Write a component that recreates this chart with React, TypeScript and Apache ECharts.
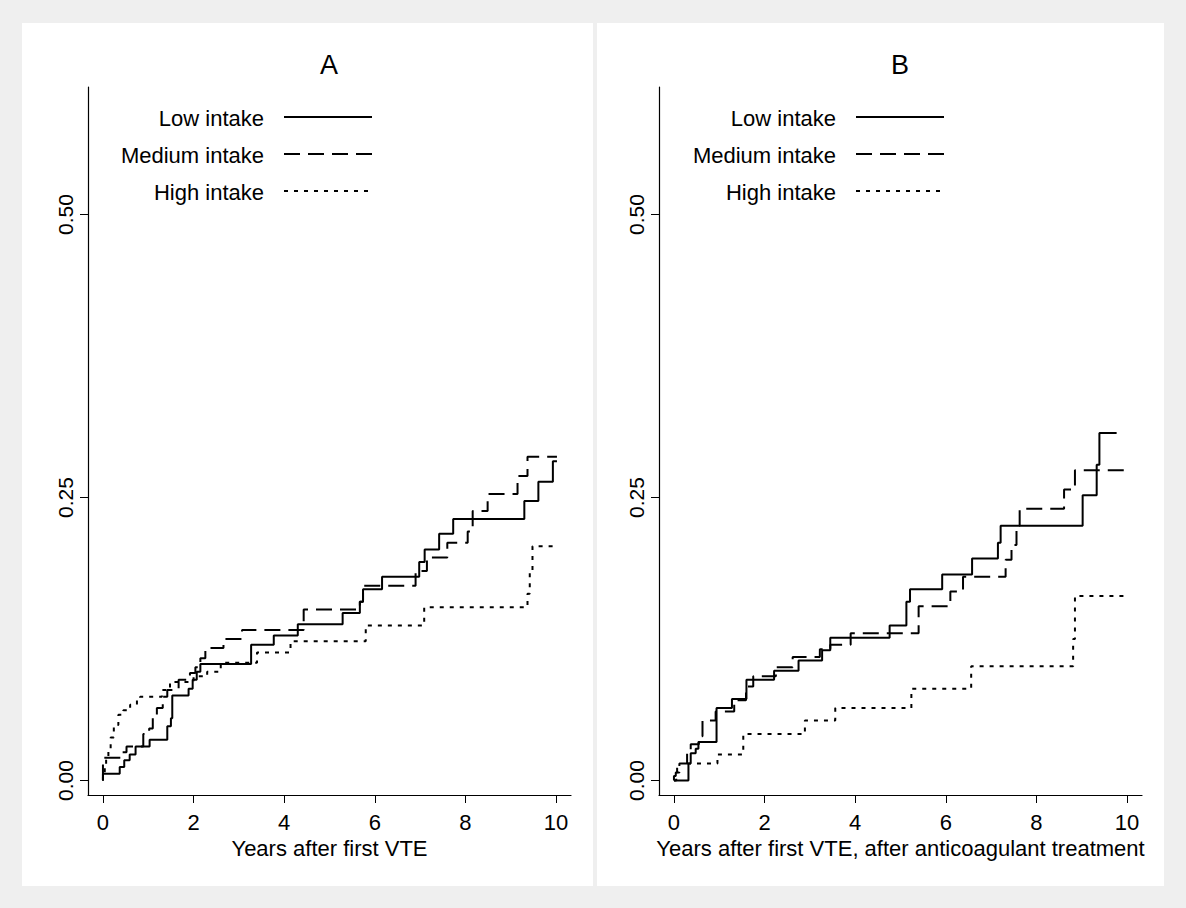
import React, { useEffect, useRef } from "react";
import * as echarts from "echarts";

const PANEL_TITLES = ["A", "B"];
const X_TITLES = [
  "Years after first VTE",
  "Years after first VTE, after anticoagulant treatment",
];
const SERIES_NAMES = ["Low intake", "Medium intake", "High intake"];
const X_TICKS = [0, 2, 4, 6, 8, 10];
const Y_TICKS = [0, 0.25, 0.5];

// Panel A: cumulative incidence step points [years, value]
const lowA = [
  [0, 0], [0, 0.006], [0.37, 0.012], [0.47, 0.018], [0.59, 0.023], [0.72, 0.03],
  [1.03, 0.036], [1.42, 0.048], [1.5, 0.055], [1.53, 0.075], [1.89, 0.081],
  [1.98, 0.089], [2.07, 0.096], [2.15, 0.103], [3.27, 0.12], [3.77, 0.128],
  [4.3, 0.138], [5.29, 0.148], [5.67, 0.158], [5.74, 0.169], [6.16, 0.18],
  [6.98, 0.193], [7.1, 0.204], [7.42, 0.218], [7.73, 0.231], [9.3, 0.247],
  [9.61, 0.264], [9.93, 0.282], [10.02, 0.282],
];
const mediumA = [
  [0, 0], [0, 0.02], [0.4, 0.025], [0.52, 0.03], [0.89, 0.041], [1.02, 0.046],
  [1.1, 0.055], [1.19, 0.064], [1.32, 0.074], [1.42, 0.08], [1.67, 0.089],
  [1.92, 0.095], [2.04, 0.1], [2.15, 0.108], [2.26, 0.117], [2.66, 0.125],
  [3.07, 0.133], [4.43, 0.151], [5.67, 0.158], [5.74, 0.172], [6.9, 0.185],
  [7.15, 0.197], [7.6, 0.21], [8.05, 0.22], [8.16, 0.238], [8.49, 0.253],
  [9.15, 0.269], [9.37, 0.286], [10.02, 0.286],
];
const highA = [
  [0, 0], [0, 0.005], [0.04, 0.012], [0.07, 0.019], [0.12, 0.027], [0.17, 0.038],
  [0.24, 0.049], [0.34, 0.058], [0.45, 0.062], [0.6, 0.067], [0.75, 0.072],
  [0.82, 0.074], [1.3, 0.08], [1.48, 0.087], [2.0, 0.092], [2.3, 0.096],
  [2.6, 0.104], [3.4, 0.113], [4.14, 0.123], [5.8, 0.137], [7.09, 0.153],
  [9.37, 0.165], [9.42, 0.185], [9.48, 0.207], [10.02, 0.207],
];

// Panel B
const lowB = [
  [0, 0], [0.32, 0.015], [0.37, 0.024], [0.48, 0.028], [0.54, 0.034],
  [0.94, 0.064], [1.28, 0.072], [1.6, 0.089], [2.21, 0.097], [2.75, 0.106],
  [3.27, 0.115], [3.45, 0.126], [4.76, 0.137], [5.13, 0.158], [5.21, 0.169],
  [5.92, 0.182], [6.58, 0.196], [7.15, 0.21], [7.21, 0.225], [9.02, 0.252],
  [9.33, 0.279], [9.39, 0.307], [9.77, 0.307],
];
const mediumB = [
  [0, 0], [0, 0.004], [0.04, 0.007], [0.07, 0.015], [0.29, 0.025], [0.37, 0.032],
  [0.55, 0.039], [0.63, 0.053], [0.92, 0.061], [1.33, 0.071], [1.59, 0.083],
  [1.75, 0.092], [2.25, 0.1], [2.62, 0.109], [3.22, 0.116], [3.45, 0.12],
  [3.9, 0.13], [5.4, 0.154], [6.1, 0.167], [6.38, 0.18], [7.32, 0.195],
  [7.45, 0.208], [7.56, 0.225], [7.63, 0.24], [8.61, 0.257], [8.85, 0.274],
  [9.96, 0.274],
];
const highB = [
  [0, 0], [0.05, 0.007], [0.12, 0.015], [0.96, 0.023], [1.53, 0.041],
  [2.89, 0.053], [3.56, 0.064], [5.24, 0.081], [6.56, 0.101], [8.81, 0.125],
  [8.85, 0.163], [9.92, 0.163],
];

const PANEL_DATA = [
  [lowA, mediumA, highA],
  [lowB, mediumB, highB],
];

const LINE_TYPES: any[] = ["solid", [16, 8], [4, 6]];

const FONT = "'Liberation Sans', Arial, sans-serif";
const NARROW = "'Liberation Sans Narrow', 'Arial Narrow', 'Liberation Sans', sans-serif";

export default function App() {
  const ref = useRef<HTMLDivElement>(null);

  useEffect(() => {
    if (!ref.current) return;
    const chart = echarts.init(ref.current, undefined, { renderer: "svg" });

    const gridLefts = [88, 659];
    const gridTop = 87;
    const gridW = 483;
    const gridH = 708;

    const grids = gridLefts.map((l) => ({ left: l, top: gridTop, width: gridW, height: gridH }));

    const xAxes = gridLefts.map((_, i) => ({
      type: "value",
      gridIndex: i,
      min: -0.33,
      max: 10.33,
      splitLine: { show: false },
      axisLine: { show: true, onZero: false, lineStyle: { color: "#000", width: 1.2 } },
      axisTick: {
        show: true,
        inside: false,
        length: 8,
        customValues: X_TICKS,
        lineStyle: { color: "#000", width: 1 },
      },
      axisLabel: {
        customValues: X_TICKS,
        margin: 16,
        color: "#000",
        fontSize: 22,
        fontFamily: FONT,
      },
      name: X_TITLES[i],
      nameLocation: "middle",
      nameGap: 40,
      nameTextStyle: { color: "#000", fontSize: 22, fontFamily: FONT },
    }));

    const yAxes = gridLefts.map((_, i) => ({
      type: "value",
      gridIndex: i,
      min: -0.0128,
      max: 0.6126,
      splitLine: { show: false },
      axisLine: { show: true, onZero: false, lineStyle: { color: "#000", width: 1.2 } },
      axisTick: {
        show: true,
        inside: false,
        length: 8,
        customValues: Y_TICKS,
        lineStyle: { color: "#000", width: 1 },
      },
      axisLabel: {
        customValues: Y_TICKS,
        rotate: 90,
        margin: 12,
        color: "#000",
        fontSize: 21,
        fontFamily: NARROW,
        formatter: (v: number) => v.toFixed(2),
      },
    }));

    const series: any[] = [];
    PANEL_DATA.forEach((panel, pi) => {
      panel.forEach((data, si) => {
        series.push({
          type: "line",
          name: SERIES_NAMES[si],
          xAxisIndex: pi,
          yAxisIndex: pi,
          step: "end",
          data,
          symbol: "none",
          showSymbol: false,
          lineStyle: { color: "#000", width: 2, type: LINE_TYPES[si], cap: "butt" },
          z: 3,
        });
      });
    });

    const legendTextRight = [264, 836];
    const legendLineX = [
      [284, 372],
      [856, 944],
    ];
    const legendY = [117, 154, 191];
    const titleX = [329, 900];

    const graphics: any[] = [
      { type: "rect", z: -10, silent: true, shape: { x: 22, y: 23, width: 571, height: 863 }, style: { fill: "#fff" } },
      { type: "rect", z: -10, silent: true, shape: { x: 597, y: 23, width: 567, height: 863 }, style: { fill: "#fff" } },
    ];
    PANEL_TITLES.forEach((t, pi) => {
      graphics.push({
        type: "text",
        x: titleX[pi],
        y: 65,
        style: { text: t, fill: "#000", font: `27px ${FONT}`, textAlign: "center", textVerticalAlign: "middle" },
      });
      SERIES_NAMES.forEach((n, si) => {
        graphics.push({
          type: "text",
          x: legendTextRight[pi],
          y: legendY[si] + 1,
          style: { text: n, fill: "#000", font: `22px ${FONT}`, textAlign: "right", textVerticalAlign: "middle" },
        });
        graphics.push({
          type: "line",
          shape: { x1: legendLineX[pi][0], y1: legendY[si], x2: legendLineX[pi][1], y2: legendY[si] },
          style: { stroke: "#000", lineWidth: 2, lineDash: LINE_TYPES[si] === "solid" ? null : LINE_TYPES[si] },
        });
      });
    });

    chart.setOption({
      animation: false,
      backgroundColor: "#efefef",
      grid: grids,
      xAxis: xAxes,
      yAxis: yAxes,
      series,
      graphic: graphics,
    });

    return () => chart.dispose();
  }, []);

  return (
    <div
      ref={ref}
      style={{ position: "fixed", left: 0, top: 0, width: 1186, height: 908 }}
    />
  );
}
